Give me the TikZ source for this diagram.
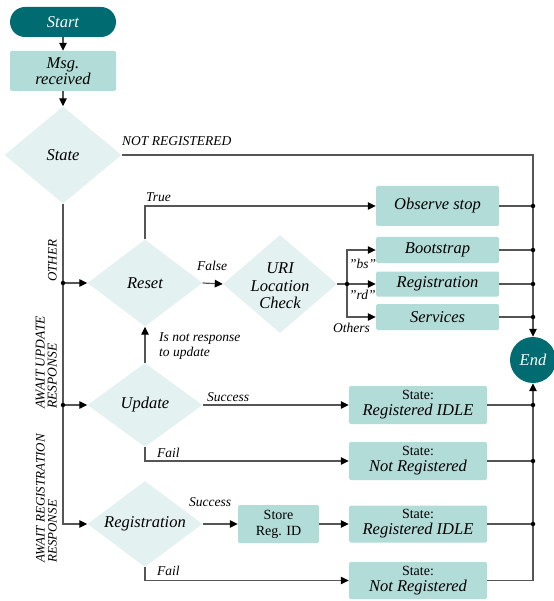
\documentclass[tikz,border=0pt]{standalone}
\usepackage{fontspec}
\setmainfont{Liberation Serif}
\usetikzlibrary{shapes.geometric,arrows.meta}
\definecolor{tealdark}{HTML}{006B70}
\definecolor{boxc}{HTML}{B1DCD8}
\definecolor{diac}{HTML}{E3F2F1}
\definecolor{linec}{HTML}{555555}
\newcommand{\stlbl}[1]{{\upshape\fontsize{14}{16}\selectfont State:}\\#1}
\newcommand{\sq}{\symbol{34}}
\begin{document}
\begin{tikzpicture}[x=1pt,y=-1pt,
  mfont/.style={font=\fontsize{16.5}{16}\selectfont\itshape},
  lbl/.style={font=\fontsize{13.5}{14}\selectfont\itshape, inner sep=0pt},
  term/.style={fill=tealdark, text=white, mfont, inner sep=0pt},
  tbox/.style={fill=boxc, rounded corners=1.5pt, mfont, inner sep=0pt, align=center},
  tdia/.style={diamond, fill=diac, inner sep=0pt},
  dtext/.style={mfont, align=center, inner sep=0pt},
  conn/.style={draw=linec, line width=1.2pt},
  arr/.style={conn, -{Triangle[length=8pt,width=7.5pt,color=black]}},
  tdot/.style={circle, fill=black, inner sep=0pt, minimum size=4.5pt},
]
\useasboundingbox (0,0) rectangle (553,601);

% terminals and boxes
\node[term, rounded corners=15pt, minimum width=106pt, minimum height=30pt] (start) at (63,22) {Start};
\node[tbox, minimum width=106pt, minimum height=40pt] (msg) at (63,71) {Msg.\\received};
\node[term, circle, minimum size=46pt] (end) at (533,360) {End};

% diamonds
\node[tdia, minimum width=117pt, minimum height=97pt] (state) at (63,155) {};
\node[dtext] (statet) at (state) {State};
\node[tdia, minimum width=115pt, minimum height=87pt] (reset) at (145,283) {};
\node[dtext] (resett) at (reset) {Reset};
\node[tdia, minimum width=114pt, minimum height=98pt] (uri) at (280,284) {};
\node[dtext, font=\fontsize{16.5}{17.5}\selectfont\itshape] (urit) at (280,286) {URI\\Location\\Check};
\node[tdia, minimum width=115pt, minimum height=84pt] (upd) at (145,405) {};
\node[dtext] (updt) at (upd) {Update};
\node[tdia, minimum width=115pt, minimum height=86pt] (regd) at (145,524) {};
\node[dtext] (regdt) at (regd) {Registration};

% action boxes
\node[tbox, minimum width=123pt, minimum height=40pt] (obs) at (437.5,206) {Observe stop};
\node[tbox, minimum width=123pt, minimum height=26pt] (boot) at (437.5,250) {Bootstrap};
\node[tbox, minimum width=123pt, minimum height=25pt] (regbox) at (437.5,284) {Registration};
\node[tbox, minimum width=123pt, minimum height=26pt] (serv) at (437.5,317) {Services};
\node[tbox, minimum width=138pt, minimum height=38pt] (idle1) at (418,405) {\stlbl{Registered IDLE}};
\node[tbox, minimum width=138pt, minimum height=38pt] (nr1) at (418,461) {\stlbl{Not Registered}};
\node[tbox, minimum width=81pt, minimum height=38pt, font=\fontsize{14}{16}\selectfont] (store) at (278.5,524) {Store\\Reg. ID};
\node[tbox, minimum width=138pt, minimum height=37pt] (idle2) at (418,524) {\stlbl{Registered IDLE}};
\node[tbox, minimum width=138pt, minimum height=37pt] (nr2) at (418,580.5) {\stlbl{Not Registered}};

% left trunk
\draw[arr] (start) -- (msg);
\draw[arr] (msg) -- (state);
\draw[arr] (state.south) |- (regd.west);
\coordinate (jr) at (state.south |- reset.west);
\coordinate (ju) at (state.south |- upd.west);
\draw[arr] (jr) -- (reset.west);
\draw[arr] (ju) -- (upd.west);
\node[tdot] (djr) at (jr) {};
\node[tdot] (dju) at (ju) {};

% right trunk
\draw[arr] (state.east) -| (end.north);
\draw[arr] (nr2.east) -| (end.south);
\foreach \b/\n in {obs/1,boot/2,regbox/3,serv/4,idle1/5,nr1/6,idle2/7}{
  \draw[conn] (\b.east) -- (end.north |- \b.east) node[tdot] (dr\n) {};
}

% middle connectors
\draw[arr] (reset.north) |- (obs.west);
\draw[arr] (reset.east) -- (uri.west);
\coordinate (jx) at (347,284);
\draw[conn] (uri.east) -- (jx);
\draw[arr] (jx) |- (boot.west);
\draw[arr] (jx) -- (regbox.west);
\draw[arr] (jx) |- (serv.west);
\node[tdot] (djx) at (jx) {};
\draw[arr] (upd.north) -- (reset.south);
\draw[arr] (upd.east) -- (idle1.west);
\draw[arr] (upd.south) |- (nr1.west);
\draw[arr] (regd.east) -- (store.west);
\draw[arr] (store.east) -- (idle2.west);
\draw[arr] (regd.south) |- (nr2.west);

% labels
\node[lbl, anchor=base west] (lnr) at (122,146) {NOT REGISTERED};
\node[lbl, anchor=base west] (ltrue) at (146,202) {True};
\node[lbl, anchor=base west] (lfalse) at (197,270) {False};
\node[lbl, anchor=base west] (lbs) at (349,268) {\sq bs\sq};
\node[lbl, anchor=base west] (lrd) at (349,299) {\sq rd\sq};
\node[lbl, anchor=base west] (loth) at (333,332) {Others};
\node[lbl, anchor=north west, align=left, font=\fontsize{13.5}{15}\selectfont\itshape] (lnot) at (159,332) {Is not response\\to update};
\node[lbl, anchor=base west] (lsu1) at (207,401) {Success};
\node[lbl, anchor=base west] (lf1) at (157,457) {Fail};
\node[lbl, anchor=base west] (lsu2) at (189,506) {Success};
\node[lbl, anchor=base west] (lf2) at (157,575) {Fail};

% rotated state labels
\node[lbl, rotate=90, anchor=south west, align=left, font=\fontsize{13}{12}\selectfont\itshape] (lo) at (57,282) {OTHER};
\node[lbl, rotate=90, anchor=south west, align=left, font=\fontsize{13.5}{12}\selectfont\itshape] (lau) at (57,409) {AWAIT UPDATE\\RESPONSE};
\node[lbl, rotate=90, anchor=south west, align=left, font=\fontsize{13}{12}\selectfont\itshape] (lar) at (57,563) {AWAIT REGISTRATION\\RESPONSE};
\end{tikzpicture}
\end{document}
